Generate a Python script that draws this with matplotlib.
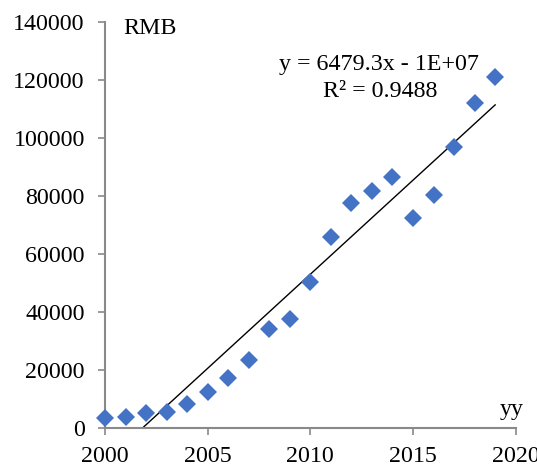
import matplotlib
matplotlib.use("Agg")
import matplotlib.pyplot as plt
import numpy as np

years = [2000, 2001, 2002, 2003, 2004, 2005, 2006, 2007, 2008, 2009,
         2010, 2011, 2012, 2013, 2014, 2015, 2016, 2017, 2018, 2019]
values = [3500, 3900, 5200, 5600, 8300, 12500, 17300, 23500, 34200, 37700,
          50400, 65900, 77600, 81800, 86600, 72500, 80400, 96900, 112100, 121000]
x_ticks = [2000, 2005, 2010, 2015, 2020]
y_ticks = [0, 20000, 40000, 60000, 80000, 100000, 120000, 140000]
eq_text = "y = 6479.3x - 1E+07"
r2_text = "R² = 0.9488"

plt.rcParams['font.family'] = ['Liberation Serif', 'DejaVu Serif']

fig = plt.figure(figsize=(5.37, 4.68), dpi=100)
ax = fig.add_axes([0.1955, 0.0848, 0.9603 - 0.1955, 0.953 - 0.0848])

x = np.array(years, dtype=float)
y = np.array(values, dtype=float)
slope, intercept = np.polyfit(x, y, 1)
xs = np.linspace(x.min(), x.max(), 200)
ax.plot(xs, slope * xs + intercept, color='black', lw=1.0, zorder=2)

ax.plot(x, y, linestyle='none', marker='D', markersize=9.2,
        color='#4472C4', markeredgewidth=0, zorder=3, clip_on=False)

ax.set_xlim(2000, 2020)
ax.set_ylim(0, 140000)
ax.set_xticks(x_ticks)
ax.set_yticks(y_ticks)
ax.tick_params(labelsize=17.3, direction='out', length=5, width=1.2,
               color='#898989')
ax.tick_params(axis='y', pad=9.5)
ax.tick_params(axis='x', pad=7.5)
for s in ['top', 'right']:
    ax.spines[s].set_visible(False)
for s in ['left', 'bottom']:
    ax.spines[s].set_color('#898989')
    ax.spines[s].set_linewidth(1.5)

ax.text(2000.9, 137600, "RMB", fontsize=17.3, ha='left', va='center')
ax.text(2019.8, 6500, "yy", fontsize=17.3, ha='center', va='center')
ax.text(2013.35, 125400, eq_text, fontsize=17.3, ha='center', va='center')
ax.text(2013.4, 116200, r2_text, fontsize=17.3, ha='center', va='center')

fig.savefig("out.png", dpi=100)
